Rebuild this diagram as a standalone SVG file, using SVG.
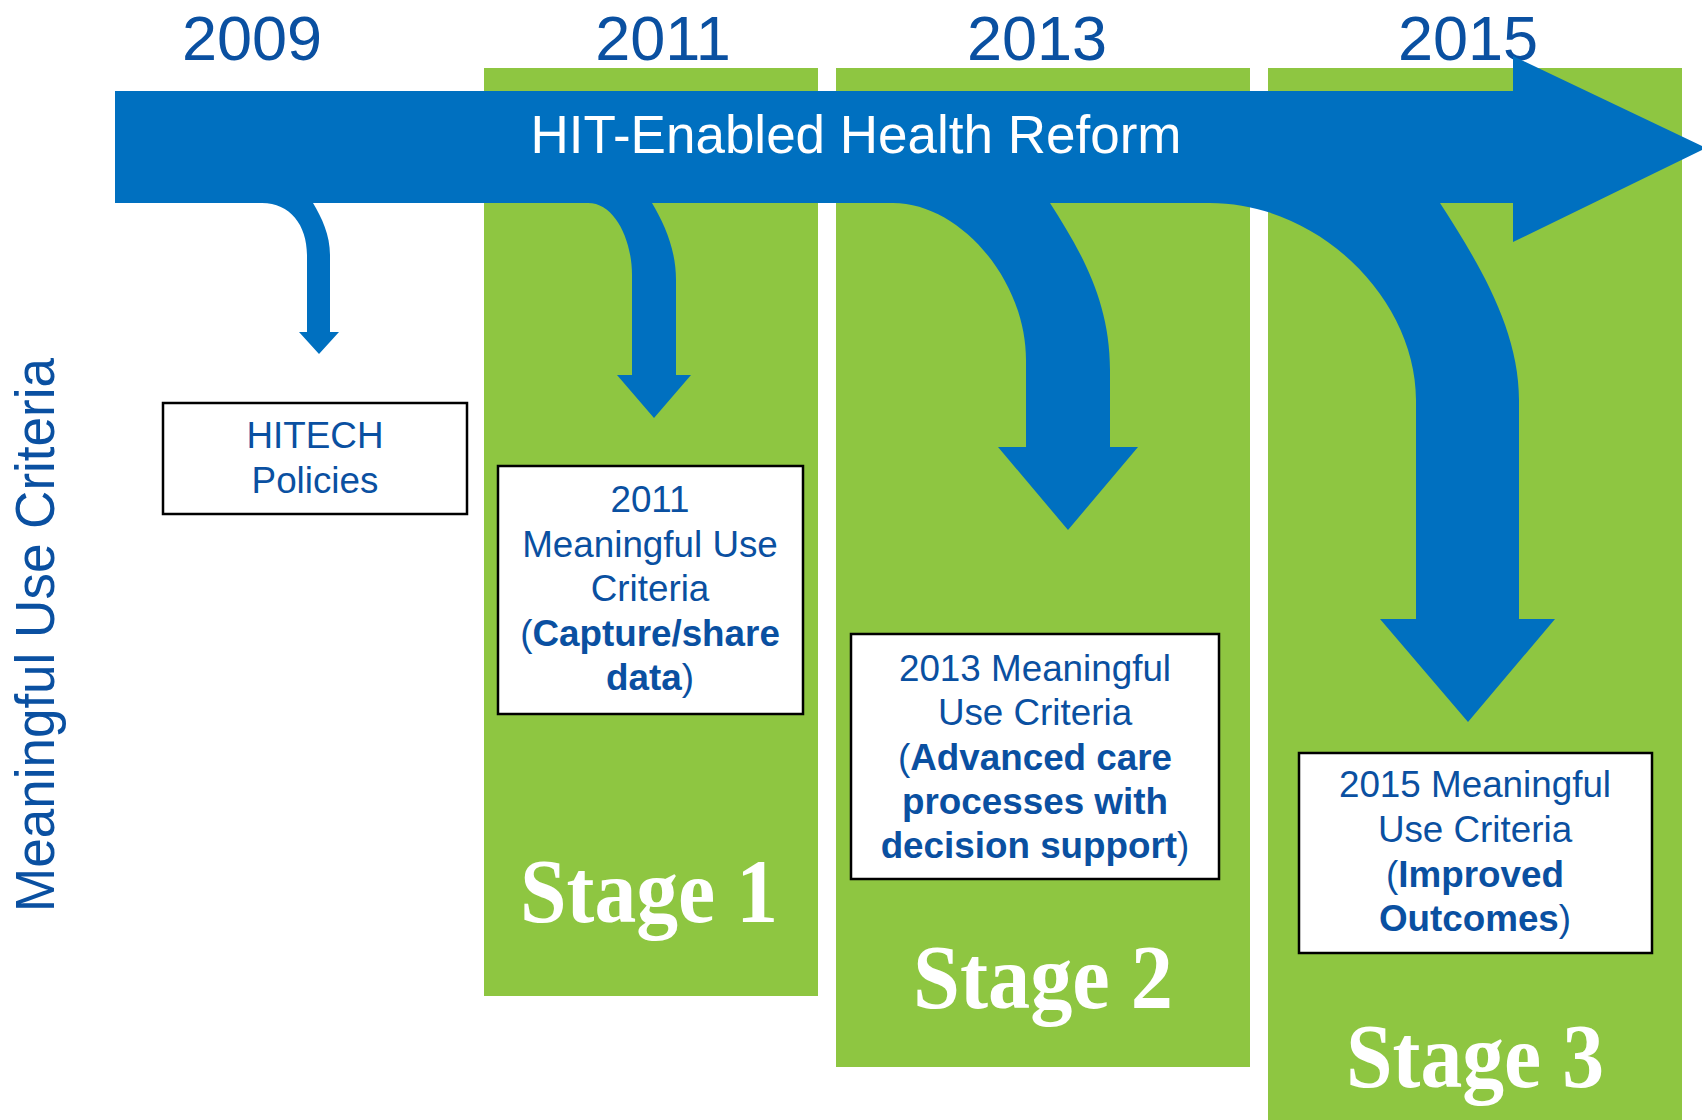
<svg xmlns="http://www.w3.org/2000/svg" width="1702" height="1120" viewBox="0 0 1702 1120">
  <style>
    .col { fill: #8EC641; }
    .blue { fill: #0070C0; }
    .year { font-family: "Liberation Sans", Arial, sans-serif; font-size: 63px; fill: #0A50A1; text-anchor: middle; }
    .box { fill: #FFFFFF; stroke: #000000; stroke-width: 2.5; }
    .lbl { font-family: "Liberation Sans", Arial, sans-serif; font-size: 36.8px; fill: #0A50A1; text-anchor: middle; }
    .b { font-weight: bold; }
    .stage { font-family: "Liberation Serif", "Times New Roman", serif; font-weight: bold; font-size: 90px; fill: #FFFFFF; text-anchor: middle; }
    .title { font-family: "Liberation Sans", Arial, sans-serif; font-size: 53px; fill: #FFFFFF; text-anchor: middle; }
    .side { font-family: "Liberation Sans", Arial, sans-serif; font-size: 56px; fill: #0A50A1; text-anchor: middle; }
  </style>
  <rect width="1702" height="1120" fill="#FFFFFF"/>

  <g id="stage-columns">
    <rect class="col" x="484" y="68" width="334" height="928"/>
    <rect class="col" x="836" y="68" width="414" height="999"/>
    <rect class="col" x="1268" y="68" width="414" height="1052"/>
  </g>

  <g id="years">
    <text class="year" x="252" y="60">2009</text>
    <text class="year" x="663" y="60">2011</text>
    <text class="year" x="1037" y="60">2013</text>
    <text class="year" x="1468" y="60">2015</text>
  </g>

  <g id="connectors">
    <path class="blue" d="M115,91 H1513 V56 L1706,148 L1513,242 V203 H115 Z"/>
    <path class="blue" d="M262,198 V203 C290,203 307,225 307,255 V332 H299 L319,354 L339,332 H330 V255 C330,235 322,218 313,203 V198 Z"/>
    <path class="blue" d="M588,198 V203 C615,203 632,240 632,275 V375 H617 L654,418 L691,375 H676 V280 C676,250 665,225 652,203 V198 Z"/>
    <path class="blue" d="M893,198 V203 C960,203 1026,280 1026,360 V447 H998 L1068,530 L1138,447 H1110 V370 C1110,300 1080,250 1050,203 V198 Z"/>
    <path class="blue" d="M1210,198 V203 C1320,203 1416,300 1416,400 V619 H1380 L1468,722 L1555,619 H1519 V400 C1519,330 1480,265 1440,203 V198 Z"/>
    <text class="title" x="856" y="153">HIT-Enabled Health Reform</text>
  </g>

  <g id="side-label">
    <text class="side" transform="translate(54,635) rotate(-90)" x="0" y="0" textLength="554" lengthAdjust="spacingAndGlyphs">Meaningful Use Criteria</text>
  </g>

  <g id="node-hitech">
    <rect class="box" x="163" y="403" width="304" height="111"/>
    <text class="lbl" x="315" y="448">HITECH</text>
    <text class="lbl" x="315" y="493">Policies</text>
  </g>

  <g id="node-2011">
    <rect class="box" x="498" y="466" width="305" height="248"/>
    <text class="lbl" x="650" y="512">2011</text>
    <text class="lbl" x="650" y="557">Meaningful Use</text>
    <text class="lbl" x="650" y="601">Criteria</text>
    <text class="lbl" x="650" y="646">(<tspan class="b">Capture/share</tspan></text>
    <text class="lbl" x="650" y="690"><tspan class="b">data</tspan>)</text>
  </g>

  <g id="node-2013">
    <rect class="box" x="851" y="634" width="368" height="245"/>
    <text class="lbl" x="1035" y="681">2013 Meaningful</text>
    <text class="lbl" x="1035" y="725">Use Criteria</text>
    <text class="lbl" x="1035" y="770">(<tspan class="b">Advanced care</tspan></text>
    <text class="lbl" x="1035" y="814"><tspan class="b">processes with</tspan></text>
    <text class="lbl" x="1035" y="858"><tspan class="b">decision support</tspan>)</text>
  </g>

  <g id="node-2015">
    <rect class="box" x="1299" y="753" width="353" height="200"/>
    <text class="lbl" x="1475" y="797">2015 Meaningful</text>
    <text class="lbl" x="1475" y="842">Use Criteria</text>
    <text class="lbl" x="1475" y="887">(<tspan class="b">Improved</tspan></text>
    <text class="lbl" x="1475" y="931"><tspan class="b">Outcomes</tspan>)</text>
  </g>

  <g id="stage-labels">
    <text class="stage" x="649" y="922" textLength="258" lengthAdjust="spacingAndGlyphs">Stage 1</text>
    <text class="stage" x="1043" y="1008" textLength="260" lengthAdjust="spacingAndGlyphs">Stage 2</text>
    <text class="stage" x="1475" y="1087" textLength="258" lengthAdjust="spacingAndGlyphs">Stage 3</text>
  </g>
</svg>
